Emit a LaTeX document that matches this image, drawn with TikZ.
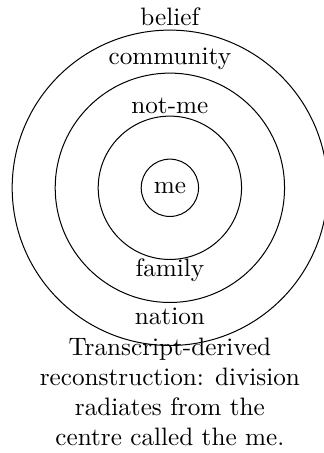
\documentclass[tikz,border=0pt]{standalone}
\usepackage{tikz}
\usetikzlibrary{positioning}

\begin{document}
\begin{tikzpicture}[
  ring/.style={draw, circle, inner sep=0pt},
  ringtext/.style={anchor=base, inner sep=0pt},
  note/.style={anchor=north, inner sep=0pt, align=center}
]
\useasboundingbox (-2.37,-3.70) rectangle (2.15,2.62);

% Rings around the centre
\coordinate (centre) at (0,0);
\node[ring, minimum size=4.4cm] (outer) at (centre) {};
\node[ring, minimum size=3.2cm] (middle) at (centre) {};
\node[ring, minimum size=2.0cm] (inner) at (centre) {};
\node[ring, minimum size=0.8cm] (me) at (centre) {me};

% Labels, top
\node[ringtext] (belief) at (0,2.26) {belief};
\node[ringtext] (community) at (0,1.72) {community};
\node[ringtext] (notme) at (0,1.04) {not-me};

% Labels, bottom
\node[ringtext] (family) at (0,-1.24) {family};
\node[ringtext] (nation) at (0,-1.91) {nation};

% Caption
\node[note] (caption) at (0,-2.086) {Transcript-derived\\reconstruction: division\\radiates from the\\centre called the me.};

\end{tikzpicture}
\end{document}
